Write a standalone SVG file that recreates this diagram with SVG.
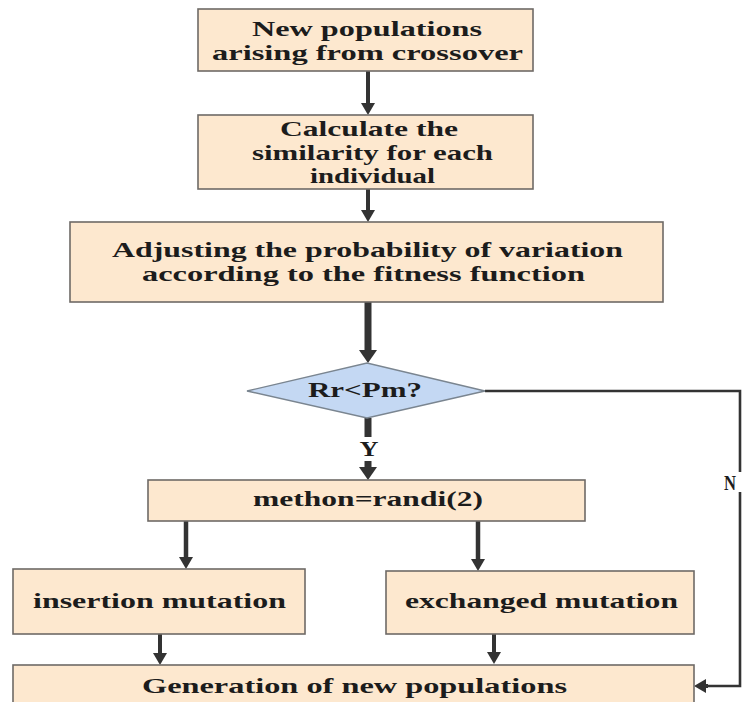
<svg xmlns="http://www.w3.org/2000/svg" width="742" height="702" viewBox="0 0 742 702">
<style>
.box{fill:#fde8cf;stroke:#6e6a66;stroke-width:1.6}
.dia{fill:#c4d8f3;stroke:#7a8590;stroke-width:1.4}
.t{font-family:"Liberation Serif","Times New Roman",serif;font-weight:bold;font-size:21px;fill:#1c1c1c}
.c{fill:none;stroke:#333;stroke-linecap:butt;stroke-linejoin:miter}
</style>
<defs>
<marker id="ah" markerUnits="userSpaceOnUse" markerWidth="14" markerHeight="14" refX="1" refY="7" orient="auto">
<path d="M0,0 L12,7 L0,14 z" fill="#333"/>
</marker>
<marker id="ahb" markerUnits="userSpaceOnUse" markerWidth="18" markerHeight="18" refX="1" refY="9" orient="auto">
<path d="M0,0 L13,9 L0,18 z" fill="#333"/>
</marker>
</defs>
<rect width="742" height="702" fill="#ffffff"/>
<g id="connectors">
<line class="c" x1="368" y1="71" x2="368" y2="104" stroke-width="4" marker-end="url(#ah)"/>
<line class="c" x1="368" y1="189" x2="368" y2="211" stroke-width="4" marker-end="url(#ah)"/>
<line class="c" x1="368" y1="302" x2="368" y2="351" stroke-width="7" marker-end="url(#ahb)"/>
<line class="c" x1="368" y1="418" x2="368" y2="437" stroke-width="7"/>
<line class="c" x1="368" y1="461" x2="368" y2="468" stroke-width="7" marker-end="url(#ahb)"/>
<line class="c" x1="186" y1="521" x2="186" y2="558" stroke-width="4.5" marker-end="url(#ah)"/>
<line class="c" x1="478" y1="521" x2="478" y2="560" stroke-width="4.5" marker-end="url(#ah)"/>
<line class="c" x1="160" y1="634" x2="160" y2="654" stroke-width="4" marker-end="url(#ah)"/>
<line class="c" x1="494" y1="634" x2="494" y2="653" stroke-width="4" marker-end="url(#ah)"/>
<polyline class="c" points="485,391 740,391 740,686 706,686" stroke-width="2.6"/>
<line class="c" x1="708" y1="686" x2="705" y2="686" stroke-width="4" marker-end="url(#ah)"/>
<rect x="722" y="472" width="20" height="20" fill="#ffffff"/>
<text class="t" x="369" y="456" text-anchor="middle" font-size="24" textLength="19" lengthAdjust="spacingAndGlyphs">Y</text>
<text class="t" x="724" y="490" textLength="12" lengthAdjust="spacingAndGlyphs">N</text>
</g>
<g id="n1">
<rect class="box" x="198" y="9" width="335" height="62"/>
<text class="t" x="252" y="36" textLength="230" lengthAdjust="spacingAndGlyphs">New populations</text>
<text class="t" x="212" y="60" textLength="311" lengthAdjust="spacingAndGlyphs">arising from crossover</text>
</g>
<g id="n2">
<rect class="box" x="198" y="115" width="335" height="74"/>
<text class="t" x="280" y="136" textLength="178" lengthAdjust="spacingAndGlyphs">Calculate the</text>
<text class="t" x="252" y="160" textLength="241" lengthAdjust="spacingAndGlyphs">similarity for each</text>
<text class="t" x="310" y="183" textLength="125" lengthAdjust="spacingAndGlyphs">individual</text>
</g>
<g id="n3">
<rect class="box" x="70" y="222" width="593" height="80"/>
<text class="t" x="112" y="257" textLength="511" lengthAdjust="spacingAndGlyphs">Adjusting the probability of variation</text>
<text class="t" x="142" y="281" textLength="443" lengthAdjust="spacingAndGlyphs">according to the fitness function</text>
</g>
<g id="n4">
<polygon class="dia" points="247,391 367,363 485,391 367,418"/>
<text class="t" x="308" y="397" textLength="114" lengthAdjust="spacingAndGlyphs">Rr&lt;Pm?</text>
</g>
<g id="n5">
<rect class="box" x="148" y="480" width="437" height="41"/>
<text class="t" x="253" y="506" textLength="230" lengthAdjust="spacingAndGlyphs">methon=randi(2)</text>
</g>
<g id="n6">
<rect class="box" x="13" y="569" width="292" height="65"/>
<text class="t" x="33" y="608" textLength="253" lengthAdjust="spacingAndGlyphs">insertion mutation</text>
</g>
<g id="n7">
<rect class="box" x="386" y="571" width="308" height="63"/>
<text class="t" x="405" y="608" textLength="273" lengthAdjust="spacingAndGlyphs">exchanged mutation</text>
</g>
<g id="n8">
<rect class="box" x="13" y="665" width="681" height="45"/>
<text class="t" x="142" y="693" textLength="425" lengthAdjust="spacingAndGlyphs">Generation of new populations</text>
</g>
</svg>
